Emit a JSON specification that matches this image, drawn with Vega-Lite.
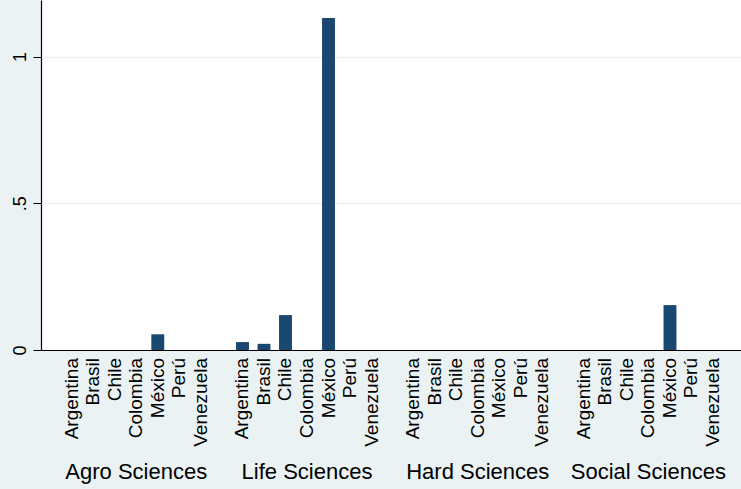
{
  "$schema": "https://vega.github.io/schema/vega-lite/v6.json",
  "width": 700,
  "height": 350,
  "autosize": {"type": "none"},
  "padding": {"left": 41, "top": 0, "right": 0, "bottom": 139},
  "background": "#EAF2F3",
  "view": {"fill": "white", "stroke": null},
  "config": {"font": "Liberation Sans"},
  "data": {
    "values": [
      {"field": "Agro Sciences", "country": "Argentina", "value": 0},
      {"field": "Agro Sciences", "country": "Brasil", "value": 0},
      {"field": "Agro Sciences", "country": "Chile", "value": 0},
      {"field": "Agro Sciences", "country": "Colombia", "value": 0},
      {"field": "Agro Sciences", "country": "México", "value": 0.0535},
      {"field": "Agro Sciences", "country": "Perú", "value": 0},
      {"field": "Agro Sciences", "country": "Venezuela", "value": 0},
      {"field": "Life Sciences", "country": "Argentina", "value": 0.027},
      {"field": "Life Sciences", "country": "Brasil", "value": 0.021},
      {"field": "Life Sciences", "country": "Chile", "value": 0.119},
      {"field": "Life Sciences", "country": "Colombia", "value": 0},
      {"field": "Life Sciences", "country": "México", "value": 1.132},
      {"field": "Life Sciences", "country": "Perú", "value": 0},
      {"field": "Life Sciences", "country": "Venezuela", "value": 0},
      {"field": "Hard Sciences", "country": "Argentina", "value": 0},
      {"field": "Hard Sciences", "country": "Brasil", "value": 0},
      {"field": "Hard Sciences", "country": "Chile", "value": 0},
      {"field": "Hard Sciences", "country": "Colombia", "value": 0},
      {"field": "Hard Sciences", "country": "México", "value": 0},
      {"field": "Hard Sciences", "country": "Perú", "value": 0},
      {"field": "Hard Sciences", "country": "Venezuela", "value": 0},
      {"field": "Social Sciences", "country": "Argentina", "value": 0},
      {"field": "Social Sciences", "country": "Brasil", "value": 0},
      {"field": "Social Sciences", "country": "Chile", "value": 0},
      {"field": "Social Sciences", "country": "Colombia", "value": 0},
      {"field": "Social Sciences", "country": "México", "value": 0.153},
      {"field": "Social Sciences", "country": "Perú", "value": 0},
      {"field": "Social Sciences", "country": "Venezuela", "value": 0}
    ]
  },
  "encoding": {
    "x": {
      "field": "field",
      "type": "nominal",
      "sort": ["Agro Sciences", "Life Sciences", "Hard Sciences", "Social Sciences"],
      "scale": {"paddingInner": 0, "paddingOuter": 0.05, "align": 0.58},
      "axis": {
        "title": null,
        "labelAngle": 0,
        "labelAlign": "center",
        "labelBaseline": "top",
        "labelFontSize": 22,
        "labelColor": "black",
        "labelPadding": 111,
        "labelOverlap": false,
        "labelLimit": 0,
        "ticks": false,
        "tickSize": 0,
        "domainColor": "black",
        "domainWidth": 1.2
      }
    },
    "xOffset": {
      "field": "country",
      "type": "nominal",
      "sort": ["Argentina", "Brasil", "Chile", "Colombia", "México", "Perú", "Venezuela"],
      "scale": {"paddingInner": 0.4, "paddingOuter": 0.67}
    }
  },
  "layer": [
    {
      "mark": {"type": "bar", "color": "#1A476F"},
      "encoding": {
        "y": {
          "field": "value",
          "type": "quantitative",
          "scale": {"domain": [0, 1.193], "nice": false, "zero": true},
          "axis": {
            "title": null,
            "values": [0, 0.5, 1],
            "labelExpr": "datum.value == 0 ? '0' : (datum.value == 1 ? '1' : '.5')",
            "labelAngle": 270,
            "labelAlign": "center",
            "labelBaseline": "bottom",
            "labelFontSize": 18,
            "labelColor": "black",
            "labelPadding": 4,
            "tickSize": 8,
            "tickColor": "black",
            "domainColor": "black",
            "domainWidth": 1.2,
            "gridColor": "#EAF2F3",
            "gridWidth": 1.5
          }
        }
      }
    },
    {
      "mark": {"type": "text", "angle": 270, "align": "right", "baseline": "middle", "dx": -8, "fontSize": 19, "color": "black"},
      "encoding": {
        "y": {"datum": 0, "type": "quantitative"},
        "text": {"field": "country"}
      }
    }
  ]
}
